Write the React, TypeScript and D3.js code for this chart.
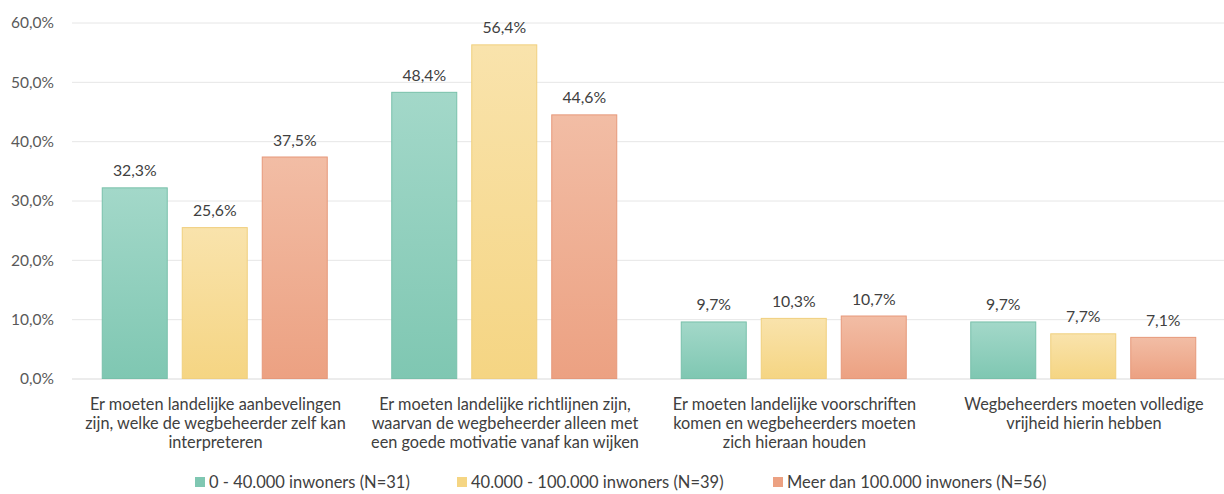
import React from "react";
import * as d3 from "d3";

const categories: string[][] = [
  ["Er moeten landelijke aanbevelingen", "zijn, welke de wegbeheerder zelf kan", "interpreteren"],
  ["Er moeten landelijke richtlijnen zijn,", "waarvan de wegbeheerder alleen met", "een goede motivatie vanaf kan wijken"],
  ["Er moeten landelijke voorschriften", "komen en wegbeheerders moeten", "zich hieraan houden"],
  ["Wegbeheerders moeten volledige", "vrijheid hierin hebben"],
];
const seriesNames = [
  "0 - 40.000 inwoners (N=31)",
  "40.000 - 100.000 inwoners (N=39)",
  "Meer dan 100.000 inwoners (N=56)",
];
const small = [32.3, 48.4, 9.7, 9.7];
const medium = [25.6, 56.4, 10.3, 7.7];
const large = [37.5, 44.6, 10.7, 7.1];
const yTicks = [0, 10, 20, 30, 40, 50, 60];

const seriesValues = [small, medium, large];
const fills = [
  ["#a3d8c9", "#7fc7b2", "#78c0aa"],
  ["#f9e3ac", "#f5d583", "#f0cf7e"],
  ["#f2bda5", "#eca182", "#e6987a"],
];

const W = 1224;
const H = 494;
const FONT = "Lato, 'Open Sans', sans-serif";
const fmt = (v: number) => v.toFixed(1).replace(".", ",") + "%";

export default function App() {
  const y = d3.scaleLinear().domain([0, 60]).range([379, 23]);
  const x0 = d3
    .scaleBand<number>()
    .domain(categories.map((_, i) => i))
    .range([70.75, 1228.75])
    .padding(0);
  const x1 = d3
    .scaleBand<number>()
    .domain([0, 1, 2])
    .range([31, 257])
    .paddingInner(0.175)
    .paddingOuter(0);

  const legendX = [195, 457, 773];

  return (
    <svg
      width={W}
      height={H}
      style={{ position: "absolute", left: 0, top: 0, background: "#fff" }}
      fontFamily={FONT}
    >
      <defs>
        {fills.map((f, i) => (
          <linearGradient key={i} id={`g${i}`} x1="0" y1="0" x2="0" y2="1">
            <stop offset="0%" stopColor={f[0]} />
            <stop offset="100%" stopColor={f[1]} />
          </linearGradient>
        ))}
      </defs>
      {yTicks.map((t) => (
        <g key={t}>
          <line
            x1={72}
            x2={W}
            y1={y(t)}
            y2={y(t)}
            stroke={t === 0 ? "#d9d9d9" : "#e6e6e6"}
            strokeWidth={1}
          />
          <text
            x={54}
            y={y(t)}
            dy="0.35em"
            textAnchor="end"
            fontSize={15.5}
            fill="#595959"
          >
            {fmt(t)}
          </text>
        </g>
      ))}
      {categories.map((lines, ci) => {
        const gx = x0(ci)!;
        return (
          <g key={ci}>
            {seriesValues.map((vals, si) => {
              const bx = gx + x1(si)!;
              const v = vals[ci];
              const top = y(v);
              return (
                <g key={si}>
                  <rect
                    x={bx + 0.5}
                    y={top + 0.5}
                    width={x1.bandwidth() - 1}
                    height={y(0) - top - 1}
                    fill={`url(#g${si})`}
                    stroke={fills[si][2]}
                    strokeWidth={1}
                  />
                  <text
                    x={bx + x1.bandwidth() / 2}
                    y={top - 11}
                    textAnchor="middle"
                    fontSize={15.8}
                    fill="#404040"
                  >
                    {fmt(v)}
                  </text>
                </g>
              );
            })}
            {lines.map((l, li) => (
              <text
                key={li}
                x={gx + x0.bandwidth() / 2}
                y={410 + li * 19}
                textAnchor="middle"
                fontSize={16.3}
                fill="#404040"
              >
                {l}
              </text>
            ))}
          </g>
        );
      })}
      {seriesNames.map((n, i) => (
        <g key={i}>
          <rect x={legendX[i]} y={477} width={10} height={10} fill={fills[i][1]} />
          <text x={legendX[i] + 14} y={482} dy="0.35em" fontSize={16.5} fill="#404040">
            {n}
          </text>
        </g>
      ))}
    </svg>
  );
}
